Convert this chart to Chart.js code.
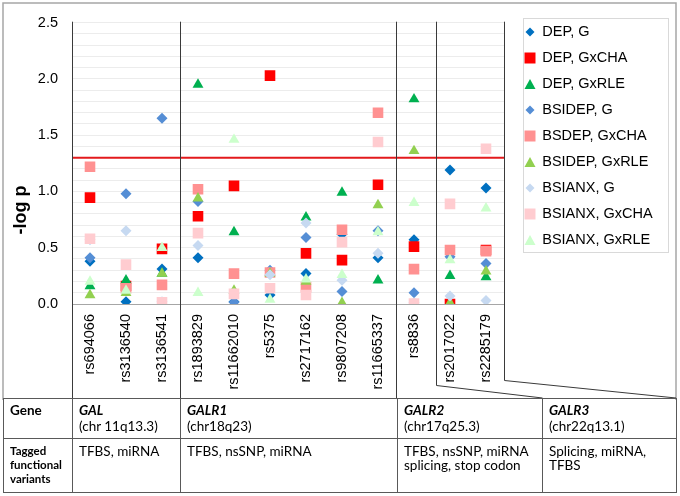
<!DOCTYPE html>
<html>
<head>
<meta charset="utf-8">
<script src="https://cdn.jsdelivr.net/npm/chart.js@4.4.0/dist/chart.umd.min.js"></script>
<style>
html,body{margin:0;padding:0;background:#fff;}
#wrap{position:relative;width:680px;height:496px;overflow:hidden;background:#fff;}
#chartBox{position:absolute;left:0;top:0;width:680px;height:400px;}
table.genes{position:absolute;left:3px;top:398px;width:673px;border-collapse:collapse;table-layout:fixed;font-family:Lato,"Open Sans",sans-serif;font-size:13.5px;color:#000;}
table.genes td{border:1px solid #595959;vertical-align:top;padding:3px 6px 0 6px;line-height:16px;overflow:hidden;white-space:nowrap;}
table.genes tr.r1 td{height:36px;}
table.genes tr.r2 td{height:48px;padding-top:5px;line-height:14px;}
table.genes td.lab{font-weight:bold;}
table.genes tr.r2 td.lab{font-size:11.5px;}
table.genes b i, table.genes i b{font-weight:bold;font-style:italic;}
</style>
</head>
<body>
<div id="wrap">
  <div id="chartBox"><canvas id="c"></canvas></div>
  <table class="genes">
    <colgroup><col style="width:69px"><col style="width:108px"><col style="width:217px"><col style="width:145px"><col style="width:134px"></colgroup>
    <tr class="r1">
      <td class="lab">Gene</td>
      <td><b><i>GAL</i></b><br>(chr 11q13.3)</td>
      <td><b><i>GALR1</i></b><br>(chr18q23)</td>
      <td><b><i>GALR2</i></b><br>(chr17q25.3)</td>
      <td><b><i>GALR3</i></b><br>(chr22q13.1)</td>
    </tr>
    <tr class="r2">
      <td class="lab">Tagged<br>functional<br>variants</td>
      <td>TFBS, miRNA</td>
      <td>TFBS, nsSNP, miRNA</td>
      <td>TFBS, nsSNP, miRNA<br>splicing, stop codon</td>
      <td>Splicing, miRNA,<br>TFBS</td>
    </tr>
  </table>
</div>
<script>
// ---------------- data ----------------
const categories = ['rs694066','rs3136540','rs3136541','rs1893829','rs11662010','rs5375','rs2717162','rs9807208','rs11665337','rs8836','rs2017022','rs2285179'];

const depG          = [0.38, 0.02, 0.31, 0.41, 0.02, 0.08, 0.27, 0.62, 0.41, 0.57, 1.19, 1.03];
const depGxCHA      = [0.945,0.16, 0.49, 0.78, 1.05, 2.03, 0.45, 0.39, 1.06, 0.51, 0.00, 0.48];
const depGxRLE      = [0.16, 0.21, 0.27, 1.95, 0.64, 0.28, 0.77, 0.99, 0.21, 1.82, 0.25, 0.24];
const bsidepG       = [0.41, 0.98, 1.65, 0.91, 0.015,0.30, 0.59, 0.11, 0.65, 0.10, 0.42, 0.36];
const bsdepGxCHA    = [1.22, 0.14, 0.17, 1.02, 0.27, 0.28, 0.15, 0.66, 1.70, 0.31, 0.48, 0.47];
const bsidepGxRLE   = [0.08, 0.10, 0.27, 0.94, 0.12, 0.27, 0.20, 0.01, 0.88, 1.36, 0.01, 0.29];
const bsianxG       = [0.57, 0.65, 0.02, 0.52, 0.09, 0.26, 0.72, 0.21, 0.45, 0.01, 0.07, 0.03];
const bsianxGxCHA   = [0.58, 0.35, 0.015,0.63, 0.09, 0.14, 0.08, 0.55, 1.44, 0.005,0.89, 1.38];
const bsianxGxRLE   = [0.20, 0.12, 0.50, 0.10, 1.46, 0.04, 0.22, 0.26, 0.64, 0.90, 0.39, 0.85];

const seriesNames  = ['DEP, G','DEP, GxCHA','DEP, GxRLE','BSIDEP, G','BSDEP, GxCHA','BSIDEP, GxRLE','BSIANX, G','BSIANX, GxCHA','BSIANX, GxRLE'];
const seriesValues = [depG, depGxCHA, depGxRLE, bsidepG, bsdepGxCHA, bsidepGxRLE, bsianxG, bsianxGxCHA, bsianxGxRLE];

const yMin = 0, yMax = 2.5, yStep = 0.1, yLabelStep = 0.5;
const threshold = 1.3;               // -log10(0.05)
const groupBounds = [2.5, 8.5, 9.6]; // gene group separators (category units)

// ---------------- styles ----------------
const colors = ['#0070C0','#FF0000','#00B050','#558ED5','#FF9191','#92D050','#C6D9F1','#FFCCD0','#CCFFCC'];
const shapes = ['rectRot','rect','triangle','rectRot','rect','triangle','rectRot','rect','triangle'];
const radii  = {rectRot:5.5, rect:7.5, triangle:6.3};

function makeIcon(shape, color){
  const c = document.createElement('canvas');
  c.width = 12; c.height = 12;
  const g = c.getContext('2d');
  g.fillStyle = color;
  g.beginPath();
  if (shape === 'rectRot'){ g.moveTo(6,1.5); g.lineTo(10.5,6); g.lineTo(6,10.5); g.lineTo(1.5,6); }
  else if (shape === 'rect'){ g.rect(0.5,0.5,11,11); }
  else { g.moveTo(6,1); g.lineTo(11.5,11); g.lineTo(0.5,11); }
  g.closePath(); g.fill();
  return c;
}
const legendIcons = shapes.map((s,i)=>makeIcon(s, colors[i]));

Chart.defaults.font.family = '"Liberation Sans", Arial, sans-serif';
Chart.defaults.color = '#1a1a1a';

const datasets = seriesNames.map((name,i)=>({
  label: name,
  data: seriesValues[i],
  showLine: false,
  pointStyle: shapes[i],
  pointRadius: radii[shapes[i]],
  pointHoverRadius: radii[shapes[i]],
  pointBackgroundColor: colors[i],
  pointBorderColor: colors[i],
  pointBorderWidth: 0,
  backgroundColor: colors[i],
  borderColor: colors[i],
  order: seriesNames.length - 1 - i
}));

const LEGEND_W = 176, LEGEND_LEFT = 513.5, LEGEND_TOP = 13.25;

const decor = {
  id: 'decor',
  beforeLayout(chart){
    const lg = chart.legend;
    if (lg && !lg._fixed){
      const orig = lg.fit;
      lg.fit = function(){ orig.call(this); this.width = LEGEND_W; };
      lg._fixed = true;
    }
  },
  afterLayout(chart){
    const lg = chart.legend;
    if (!lg) return;
    const w = lg.width;
    lg.left = LEGEND_LEFT; lg.right = LEGEND_LEFT + w;
    lg.top = LEGEND_TOP;
  },
  beforeDatasetsDraw(chart){
    const {ctx, chartArea, scales:{x, y}} = chart;
    ctx.save();
    // threshold line
    const ty = y.getPixelForValue(threshold);
    ctx.strokeStyle = '#E31A1C';
    ctx.lineWidth = 2;
    ctx.beginPath(); ctx.moveTo(chartArea.left, ty); ctx.lineTo(chartArea.right, ty); ctx.stroke();
    ctx.restore();
  },
  afterDraw(chart){
    const {ctx, chartArea, scales:{x}} = chart;
    const H = chart.height;
    ctx.save();
    // outer frame
    ctx.strokeStyle = '#a6a6a6';
    ctx.lineWidth = 1.5;
    ctx.beginPath();
    ctx.moveTo(3, H); ctx.lineTo(3, 3); ctx.lineTo(676, 3); ctx.lineTo(676, H);
    ctx.stroke();
    // group separators
    const top = chartArea.top - 1;
    const tableTop = 398;
    ctx.strokeStyle = '#3a3a3a';
    ctx.lineWidth = 1;
    const xl = Math.round(chartArea.left) + 0.5;
    ctx.beginPath(); ctx.moveTo(xl, top); ctx.lineTo(xl, tableTop); ctx.stroke();
    const b0 = Math.round(x.getPixelForValue(groupBounds[0])) + 0.5;
    const b1 = Math.round(x.getPixelForValue(groupBounds[1])) + 0.5;
    const b2 = Math.round(x.getPixelForValue(groupBounds[2])) + 0.5;
    const xr = Math.round(chartArea.right) + 0.5;
    ctx.beginPath(); ctx.moveTo(b0, top); ctx.lineTo(b0, tableTop); ctx.stroke();
    ctx.beginPath(); ctx.moveTo(b1, top); ctx.lineTo(b1, tableTop); ctx.stroke();
    ctx.beginPath(); ctx.moveTo(b2, top); ctx.lineTo(b2, 385.5); ctx.lineTo(542.5, tableTop); ctx.stroke();
    ctx.beginPath(); ctx.moveTo(xr, top); ctx.lineTo(xr, 380.5); ctx.lineTo(676, tableTop); ctx.stroke();
    // legend border
    ctx.strokeStyle = '#d9d9d9';
    ctx.lineWidth = 1;
    ctx.strokeRect(523.5, 18.5, 145, 234);
    // y axis title
    ctx.translate(25.5, 210);
    ctx.rotate(-Math.PI/2);
    ctx.font = 'bold 18px "Liberation Sans", Arial, sans-serif';
    ctx.fillStyle = '#000';
    ctx.textAlign = 'center';
    ctx.textBaseline = 'alphabetic';
    ctx.fillText('-log p', 0, 0);
    ctx.restore();
  }
};

new Chart(document.getElementById('c'), {
  type: 'line',
  data: { labels: categories, datasets },
  options: {
    responsive: true,
    maintainAspectRatio: false,
    animation: false,
    events: [],
    layout: { padding: { top: 14, left: 0, right: 0, bottom: 0 } },
    plugins: {
      tooltip: { enabled: false },
      legend: {
        position: 'right',
        align: 'start',
        labels: {
          usePointStyle: true,
          boxWidth: 10,
          boxHeight: 10,
          padding: 11.5,
          color: '#000',
          font: { size: 14.5 },
          generateLabels(chart){
            const items = Chart.defaults.plugins.legend.labels.generateLabels(chart);
            items.forEach(it => { it.pointStyle = legendIcons[it.datasetIndex]; it.rotation = 0; });
            return items;
          },
          sort: (a,b) => a.datasetIndex - b.datasetIndex
        }
      }
    },
    scales: {
      x: {
        type: 'category',
        offset: true,
        grid: { display: false, drawTicks: false },
        border: { display: false },
        ticks: { minRotation: 90, maxRotation: 90, autoSkip: false, padding: 10, color: '#000', font: { size: 14.5 } },
        afterFit(s){ s.height = 96; }
      },
      y: {
        min: yMin, max: yMax,
        grid: {
          drawTicks: false,
          color: (c) => (c.tick && Math.abs(c.tick.value) < 1e-9) ? '#a6a6a6' : '#ececec',
          lineWidth: 1
        },
        border: { display: false },
        ticks: {
          stepSize: yStep,
          autoSkip: false,
          maxTicksLimit: 100,
          padding: 14,
          color: '#000',
          font: { size: 14.5 },
          callback: (v) => {
            const k = v / yLabelStep;
            return Math.abs(k - Math.round(k)) < 1e-6 ? Number(v).toFixed(1) : '';
          }
        },
        afterFit(s){ s.width = 72; }
      }
    }
  },
  plugins: [decor]
});
</script>
</body>
</html>
